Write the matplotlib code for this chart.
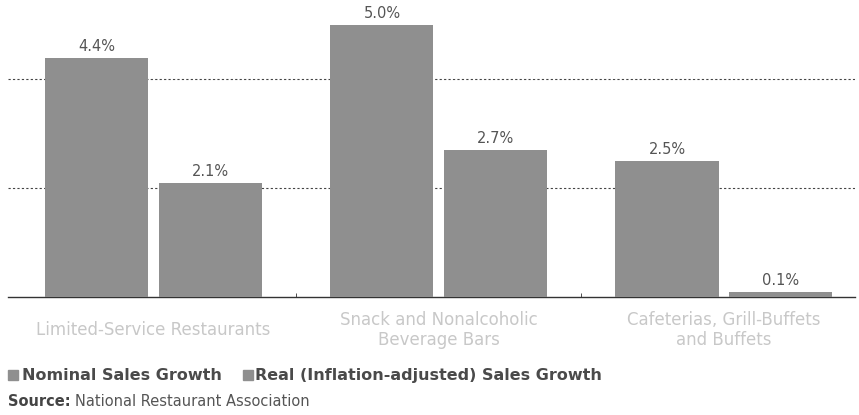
import numpy as np
import matplotlib.pyplot as plt
from matplotlib.patches import Rectangle

# Data
categories = ['Limited-Service Restaurants',
              'Snack and Nonalcoholic\nBeverage Bars',
              'Cafeterias, Grill-Buffets\nand Buffets']
nominal = [4.4, 5.0, 2.5]
real = [2.1, 2.7, 0.1]
series_names = ['Nominal Sales Growth', 'Real (Inflation-adjusted) Sales Growth']

plt.rcParams['font.family'] = ['DejaVu Sans']

fig = plt.figure(figsize=(8.59, 4.15), dpi=100)
ax = fig.add_axes([8 / 859, 118 / 415, 847 / 859, 292 / 415])

bar_color = '#8f8f8f'
x = np.arange(len(categories))
w = 0.362
gap = 0.036

b1 = ax.bar(x - (w + gap) / 2, nominal, w, color=bar_color, zorder=3)
b2 = ax.bar(x + (w + gap) / 2, real, w, color=bar_color, zorder=3)

for bars, vals in [(b1, nominal), (b2, real)]:
    for rect, v in zip(bars, vals):
        ax.text(rect.get_x() + rect.get_width() / 2, v + 0.07, f'{v:.1f}%',
                ha='center', va='bottom', fontsize=10.5, color='#555555')

ax.set_xlim(-0.51, 2.46)
ax.set_ylim(0, 5.37)
ax.set_yticks([2, 4])
ax.yaxis.grid(True, linestyle=(0, (2, 2)), color='#444444', linewidth=0.8, zorder=0)
ax.tick_params(axis='y', left=False, labelleft=False)

ax.set_xticks(x)
ax.set_xticklabels(categories, fontsize=12, color='#c8c8c8', linespacing=1.15)
for lbl in ax.get_xticklabels():
    lbl.set_verticalalignment('center')
ax.tick_params(axis='x', length=0, pad=24)
ax.set_xticks([0.5, 1.5], minor=True)
ax.tick_params(axis='x', which='minor', length=3, direction='in', color='#333333')

for s in ['top', 'right', 'left']:
    ax.spines[s].set_visible(False)
ax.spines['bottom'].set_color('#333333')
ax.spines['bottom'].set_linewidth(1.0)

# Legend row
sq = 10 / 859
fig.patches.append(Rectangle((8 / 859, (415 - 380) / 415), sq, 10 / 415,
                             transform=fig.transFigure, color=bar_color))
fig.text(22 / 859, (415 - 375) / 415, series_names[0], fontsize=11.5, fontweight='bold',
         color='#4a4a4a', va='center')
fig.patches.append(Rectangle((243 / 859, (415 - 380) / 415), sq, 10 / 415,
                             transform=fig.transFigure, color=bar_color))
fig.text(255 / 859, (415 - 375) / 415, series_names[1], fontsize=11.5, fontweight='bold',
         color='#4a4a4a', va='center')

# Source line
src = fig.text(8 / 859, (415 - 401) / 415, 'Source:', fontsize=10.5,
               fontweight='semibold', color='#444444', va='center')
ax.annotate('National Restaurant Association', xy=(1, 0.5), xycoords=src,
            xytext=(3, 0), textcoords='offset points', fontsize=10.5,
            color='#555555', va='center', ha='left', annotation_clip=False)

fig.savefig('out.png', dpi=100)
